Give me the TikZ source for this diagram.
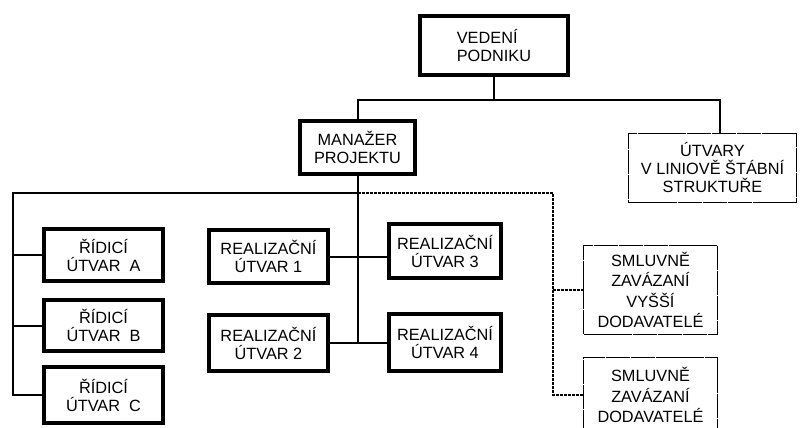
\documentclass[tikz,border=0pt]{standalone}
\usepackage{fontspec}
\setmainfont{Liberation Sans}
\usetikzlibrary{positioning}

\begin{document}
\begin{tikzpicture}[x=1pt, y=-1pt, font=\fontsize{16.3}{18}\selectfont]
    \tikzstyle{unit} = [rectangle, draw, line width=4pt, align=center, inner sep=0pt, minimum width=119pt]
    \tikzstyle{staff} = [rectangle, draw, line width=1pt, align=center, inner sep=0pt, dash pattern=on 24pt off 0.8pt]
    \tikzstyle{link} = [line width=2pt]
    \tikzstyle{contract} = [line width=1.2pt, dash pattern=on 3pt off 1pt]

    \useasboundingbox (0,0) rectangle (800,428);

    % Nodes
    \node [unit, align=left, minimum width=148pt, minimum height=59pt] (vedeni) at (494,45.5) {VEDENÍ\\PODNIKU};
    \node [unit, minimum width=115pt, minimum height=53pt] (manazer) at (357.5,147.5) {MANAŽER\\PROJEKTU};
    \node [staff, minimum width=168pt, minimum height=69pt] (utvary) at (712.5,168) {ÚTVARY\\V LINIOVĚ ŠTÁBNÍ\\STRUKTUŘE};

    \node [unit, minimum height=52pt] (ridA) at (103.5,255) {ŘÍDICÍ\\ÚTVAR\ \ A};
    \node [unit, minimum height=51pt] (ridB) at (103.5,325.5) {ŘÍDICÍ\\ÚTVAR\ \ B};
    \node [unit, minimum height=56pt] (ridC) at (103.5,395) {ŘÍDICÍ\\ÚTVAR\ \ C};

    \node [unit, minimum height=53pt] (real1) at (268.5,256.5) {REALIZAČNÍ\\ÚTVAR 1};
    \node [unit, minimum height=56pt] (real2) at (268.5,343) {REALIZAČNÍ\\ÚTVAR 2};
    \node [unit, minimum width=112pt, minimum height=54pt] (real3) at (445,251) {REALIZAČNÍ\\ÚTVAR 3};
    \node [unit, minimum width=112pt, minimum height=57pt] (real4) at (445,342.5) {REALIZAČNÍ\\ÚTVAR 4};

    \node [staff, minimum width=134pt, minimum height=89pt, font=\fontsize{16.3}{20.5}\selectfont] (sml1) at (650.5,290) {SMLUVNĚ\\ZAVÁZANÍ\\VYŠŠÍ\\DODAVATELÉ};
    \node [staff, minimum width=134pt, minimum height=76pt, font=\fontsize{16.3}{20.5}\selectfont] (sml2) at (650.5,395) {SMLUVNĚ\\ZAVÁZANÍ\\DODAVATELÉ};

    \coordinate (top) at (357,100);
    \coordinate (left) at (13,193);
    \coordinate (right) at (553,193);

    % Connections
    \draw [link] (vedeni.south) -- (vedeni.south |- top);
    \draw [link] (manazer.north) |- (top) -| ([xshift=7.5pt]utvary.north);
    \draw [link] (manazer.south) -- (manazer.south |- real2.east);
    \draw [link] (real1.east) -- (real1.east -| real3.west);
    \draw [link] (real2.east) -- (real2.east -| real4.west);
    \draw [link] (manazer.south |- left) -- (left) |- (ridC.west);
    \draw [link] (left |- ridA.west) -- (ridA.west);
    \draw [link] (left |- ridB.west) -- (ridB.west);
    \draw [contract] (manazer.south |- left) -- (right) |- (sml2.west);
    \draw [contract] (right |- sml1.west) -- (sml1.west);
\end{tikzpicture}
\end{document}
